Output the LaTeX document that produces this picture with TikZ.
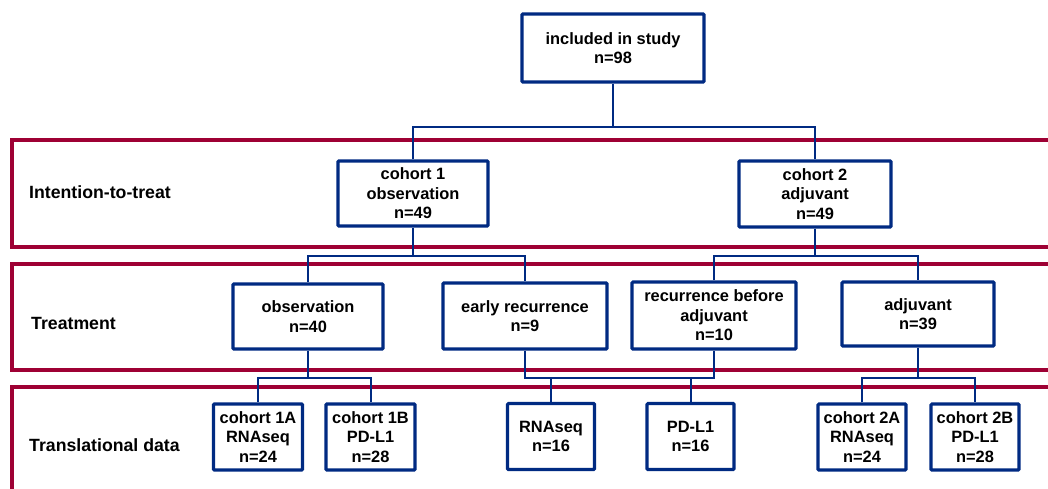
\documentclass[tikz,border=0pt]{standalone}
\usepackage{fontspec}
\setmainfont{Liberation Sans}
\usepackage{tikz}
\usetikzlibrary{positioning}
\usepackage{xcolor}
\definecolor{navy}{RGB}{0,42,130}
\definecolor{crimson}{RGB}{158,0,52}

\begin{document}
\begin{tikzpicture}[x=1pt, y=-1pt,
    box/.style={draw=navy, line width=3.2pt, rounded corners=1pt, fill=white,
        align=center, inner sep=0pt, font=\bfseries\fontsize{16.4}{19.5}\selectfont},
    link/.style={draw=navy, line width=2pt},
    band/.style={draw=crimson, line width=3.6pt},
    bandlabel/.style={anchor=west, inner sep=0pt, font=\bfseries\fontsize{17.7}{21}\selectfont}]
            \useasboundingbox (0,0) rectangle (1048,489);

            \draw[band] (1050,140) -- (12,140) -- (12,247) -- (1050,247);
            \draw[band] (1050,264) -- (12,264) -- (12,370) -- (1050,370);
            \draw[band] (1050,387) -- (12,387) -- (12,492);

            \node[bandlabel] (itt) at (29,192) {Intention-to-treat};
            \node[bandlabel] (trt) at (31,323) {Treatment};
            \node[bandlabel] (tld) at (29,445) {Translational data};

            \node[box, minimum width=182pt, minimum height=68pt] (study) at (613,48) {included in study\\n=98};

            \node[box, minimum width=150pt, minimum height=65pt] (coh1) at (413,193.5) {cohort 1\\observation\\n=49};
            \node[box, minimum width=152pt, minimum height=66pt] (coh2) at (815,194) {cohort 2\\adjuvant\\n=49};

            \node[box, minimum width=150pt, minimum height=65pt] (obs) at (308,316.5) {observation\\n=40};
            \node[box, minimum width=164pt, minimum height=66pt] (early) at (525,316) {early recurrence\\n=9};
            \node[box, minimum width=164pt, minimum height=67pt] (recbef) at (714,315.5) {recurrence before\\adjuvant\\n=10};
            \node[box, minimum width=152pt, minimum height=64pt] (adj) at (918,314) {adjuvant\\n=39};

            \node[box, minimum width=89pt, minimum height=66pt] (coh1a) at (258,437) {cohort 1A\\RNAseq\\n=24};
            \node[box, minimum width=89pt, minimum height=66pt] (coh1b) at (370.5,437) {cohort 1B\\PD-L1\\n=28};
            \node[box, minimum width=87pt, minimum height=66pt] (rnaseq) at (551,436.5) {RNAseq\\n=16};
            \node[box, minimum width=87pt, minimum height=66pt] (pdl1) at (690.5,436.5) {PD-L1\\n=16};
            \node[box, minimum width=88pt, minimum height=66pt] (coh2a) at (862,437) {cohort 2A\\RNAseq\\n=24};
            \node[box, minimum width=88pt, minimum height=66pt] (coh2b) at (975,437) {cohort 2B\\PD-L1\\n=28};

            \coordinate (split0) at (613,127);
            \coordinate (split1) at (413,256);
            \coordinate (split2) at (815,256);
            \coordinate (split3) at (308,378);
            \coordinate (split4) at (620,378);
            \coordinate (split5) at (918,378);

            \draw[link] (study.south) -- (split0);
            \draw[link] (coh1.north) |- (split0) -| (coh2.north);

            \draw[link] (coh1.south) -- (split1);
            \draw[link] (obs.north) |- (split1) -| (early.north);
            \draw[link] (coh2.south) -- (split2);
            \draw[link] (recbef.north) |- (split2) -| (adj.north);

            \draw[link] (obs.south) -- (split3);
            \draw[link] (coh1a.north) |- (split3) -| (coh1b.north);
            \draw[link] (early.south) |- (split4) -| (recbef.south);
            \draw[link] (rnaseq.north) -- (rnaseq.north |- split4);
            \draw[link] (pdl1.north) -- (pdl1.north |- split4);
            \draw[link] (adj.south) -- (split5);
            \draw[link] (coh2a.north) |- (split5) -| (coh2b.north);
        \end{tikzpicture}
\end{document}
